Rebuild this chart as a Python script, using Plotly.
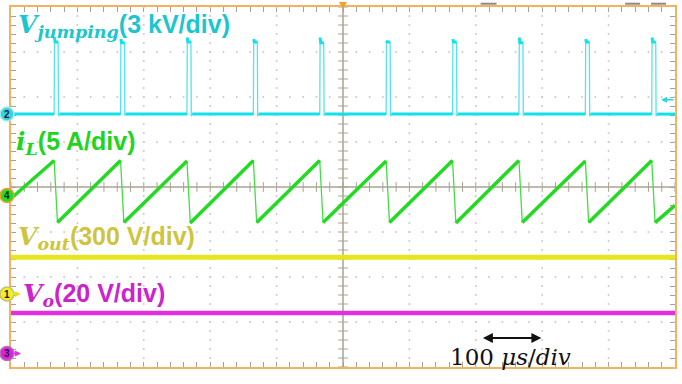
import numpy as np
import plotly.graph_objects as go

# ---------------- data ----------------
# time base: 100 us/div, 10 divisions
pulse_t_us = [65, 165, 265, 365, 465, 565, 665, 765, 865, 965]
pulse_width_us = 6
jump_spike_kV = [5.1, 5.0, 5.1, 5.0, 5.1, 4.9, 5.0, 5.1, 5.0, 5.1]
jump_top_kV = [4.8, 4.75, 4.8, 4.8, 4.75, 4.8, 4.8, 4.75, 4.8, 4.8]
jump_under_kV = [-0.15, -0.1, -0.15, -0.15, -0.1, -0.15, -0.15, -0.1, -0.15, -0.15]

iL_peak_A = [3.9, 3.9, 3.85, 3.9, 3.9, 3.85, 3.9, 3.9, 3.85, 3.9]
iL_min_A = [-3.0, -3.0, -3.05, -3.0, -3.0, -3.0, -3.05, -3.0, -3.0, -3.0]
iL_fall_us = 5
iL_start_A = -0.33
iL_end_A = -1.1

vout_t_us = [0, 250, 500, 750, 1000]
vout_V = [246, 246, 246, 246, 246]
vo_t_us = [0, 250, 500, 750, 1000]
vo_V = [18, 18, 18, 18, 18]

# channel volts/div and ground offset (divisions from screen centre)
scale_jump, off_jump = 3.0, 1.62
scale_iL, off_iL = 5.0, -0.19
scale_vout, off_vout = 300.0, -2.38
scale_vo, off_vo = 20.0, -3.70

# ---------------- layout constants ----------------
WPX, HPX = 682, 384
ML, MR, MT, MB = 11, 5, 6, 17
PW, PH = WPX - ML - MR, HPX - MT - MB
ORANGE = "#F4B25E"
GRIDC = "#ABA292"
DOTC = "#CFCAC0"

def py2y(py):
    return 4.0 - (py - MT) / PH * 8.0

def y2py(y):
    return MT + (4.0 - y) / 8.0 * PH

def ppx(px):
    return (px - ML) / PW

def ppy(py):
    return (HPX - MB - py) / PH

# ---------------- build traces ----------------
w = pulse_width_us
# full V_jumping waveform (thin: fast edges) + bright baseline / tops (thick)
cx, cy = [0.0], [0.0]
bx, by = [0.0], [0.0]
for t, sp, top, us in zip(pulse_t_us, jump_spike_kV, jump_top_kV, jump_under_kV):
    cx += [t, t + 0.5, t + 1.5, t + w, t + w + 0.5, t + w + 2]
    cy += [0.0, sp, top, top, us, 0.0]
    bx += [t, None, t + 0.5, t + 1.5, t + w, None, t + w + 2]
    by += [0.0, None, sp, top, top, None, 0.0]
cx.append(1000.0); cy.append(0.0)
bx.append(1000.0); by.append(0.0)
to_div_j = lambda v: None if v is None else off_jump + v / scale_jump
cy_div = [to_div_j(v) for v in cy]
by_div = [to_div_j(v) for v in by]

# inductor current: thin full waveform + thick ramps
gx, gy = [0.0], [iL_start_A]
rx, ry = [0.0], [iL_start_A]
for t, pk, mn in zip(pulse_t_us, iL_peak_A, iL_min_A):
    gx += [t, t + iL_fall_us]
    gy += [pk, mn]
    rx += [t, None, t + iL_fall_us]
    ry += [pk, None, mn]
gx.append(1000.0); gy.append(iL_end_A)
rx.append(1000.0); ry.append(iL_end_A)
to_div_i = lambda v: None if v is None else off_iL + v / scale_iL
gy_div = [to_div_i(v) for v in gy]
ry_div = [to_div_i(v) for v in ry]

yv_div = [off_vout + v / scale_vout for v in vout_V]
mv_div = [off_vo + v / scale_vo for v in vo_V]

fig = go.Figure()

# dotted graticule
dx, dy = [], []
for gxl in range(100, 1000, 100):
    if gxl == 500:
        continue
    for yy in np.arange(-4, 4.001, 0.2):
        dx.append(gxl); dy.append(yy)
for gyl in range(-3, 4):
    if gyl == 0:
        continue
    for xx in np.arange(0, 1000.1, 20):
        dx.append(xx); dy.append(gyl)
fig.add_trace(go.Scatter(x=dx, y=dy, mode="markers",
                         marker=dict(size=2, color=DOTC), hoverinfo="skip"))

# centre cross ticks
tx = list(np.arange(0, 1000.1, 20))
fig.add_trace(go.Scatter(x=tx, y=[0] * len(tx), mode="markers",
                         marker=dict(symbol="line-ns", size=7, line=dict(width=1, color=GRIDC)),
                         hoverinfo="skip"))
ty = list(np.arange(-4, 4.001, 0.2))
fig.add_trace(go.Scatter(x=[500] * len(ty), y=ty, mode="markers",
                         marker=dict(symbol="line-ew", size=7, line=dict(width=1, color=GRIDC)),
                         hoverinfo="skip"))

# signals
fig.add_trace(go.Scatter(x=cx, y=cy_div, mode="lines",
                         line=dict(color="#55E4EA", width=1.3), hoverinfo="skip"))
fig.add_trace(go.Scatter(x=bx, y=by_div, mode="lines", connectgaps=False,
                         line=dict(color="#0FE2EC", width=3), hoverinfo="skip"))
fig.add_trace(go.Scatter(x=gx, y=gy_div, mode="lines",
                         line=dict(color="#44DD44", width=1.3), hoverinfo="skip"))
fig.add_trace(go.Scatter(x=rx, y=ry_div, mode="lines", connectgaps=False,
                         line=dict(color="#22DA22", width=3.5), hoverinfo="skip"))
fig.add_trace(go.Scatter(x=vout_t_us, y=yv_div, mode="lines",
                         line=dict(color="#E6E61E", width=5), hoverinfo="skip"))
fig.add_trace(go.Scatter(x=vo_t_us, y=mv_div, mode="lines",
                         line=dict(color="#E030E0", width=4.5), hoverinfo="skip"))

serif = "DejaVu Serif"

def label(main, sub, rest):
    s = "<span style='font-family:%s'><b><i>%s</i></b>" % (serif, main)
    if sub:
        s += "<sub><b><i>%s</i></b></sub>" % sub
    s += "</span><b>%s</b>" % rest
    return s

ann = []
ann.append(dict(text=label("V", "jumping", "(3 kV/div)"), x=ppx(16), y=ppy(25),
                font=dict(color="#1CC6CE", size=25)))
ann.append(dict(text=label("i", "L", "(5 A/div)"), x=ppx(14), y=ppy(142),
                font=dict(color="#22D422", size=25)))
ann.append(dict(text=label("V", "out", "(300 V/div)"), x=ppx(16), y=ppy(238),
                font=dict(color="#CDC540", size=25)))
ann.append(dict(text=label("V", "o", "(20 V/div)"), x=ppx(21), y=ppy(295),
                font=dict(color="#CC24CC", size=25)))
ann.append(dict(text="<span style='font-family:%s'>100 <i>μs</i>/<i>div</i></span>" % serif,
                x=ppx(449), y=ppy(357), font=dict(color="#111", size=23)))
for a in ann:
    a.update(xref="paper", yref="paper", xanchor="left", yanchor="middle",
             showarrow=False)
    a["font"]["family"] = "Liberation Sans"

shapes = [
    dict(type="line", xref="x", yref="y", x0=500, x1=500, y0=-4, y1=4,
         line=dict(color=GRIDC, width=1.5), layer="below"),
    dict(type="line", xref="x", yref="y", x0=0, x1=1000, y0=0, y1=0,
         line=dict(color=GRIDC, width=1.5), layer="below"),
]
for a, b in [(482, 498), (627, 642), (653, 668)]:
    shapes.append(dict(type="line", xref="paper", yref="paper", x0=ppx(a), x1=ppx(b),
                       y0=ppy(2.7), y1=ppy(2.7), line=dict(color="#8A8A8A", width=2)))

# channel arrows (1, 3)
for yy, col in [(off_vout, "#E4E41C"), (off_vo, "#E030E0")]:
    py = y2py(yy)
    ann.append(dict(x=ppx(21), y=ppy(py), ax=-9, ay=0, xref="paper", yref="paper",
                    text="", showarrow=True, arrowhead=2, arrowsize=0.8,
                    arrowwidth=1.5, arrowcolor=col))
# trigger level arrow (right edge)
ann.append(dict(x=ppx(663), y=ppy(99), ax=14, ay=0, xref="paper", yref="paper", text="",
                showarrow=True, arrowhead=2, arrowsize=0.8, arrowwidth=1.5,
                arrowcolor="#20D8E0"))
# double arrow 100 us
ann.append(dict(x=ppx(543), y=ppy(338), ax=-60, ay=0,
                xref="paper", yref="paper", text="",
                showarrow=True, arrowhead=2, arrowside="end+start",
                arrowsize=1, arrowwidth=2, arrowcolor="#111"))

# channel ground marker circles (drawn as paper shapes + text)
mk_lbl = ["2", "4", "1", "3"]
mk_y = [off_jump, off_iL, off_vout, off_vo]
mk_fill = ["#38D2E2", "#22DD22", "#F2F020", "#E020E0"]
mk_edge = ["#A8E8EE", "#F0A030", "#C8C070", "#B870B8"]
r = 7
for lb, yy, fc, ec in zip(mk_lbl, mk_y, mk_fill, mk_edge):
    py = y2py(yy)
    shapes.append(dict(type="circle", xref="paper", yref="paper",
                       x0=ppx(7 - r), x1=ppx(7 + r), y0=ppy(py + r), y1=ppy(py - r),
                       fillcolor=fc, line=dict(color=ec, width=1.5), layer="above"))
    ann.append(dict(text="<b>%s</b>" % lb, x=ppx(7), y=ppy(py), xref="paper", yref="paper",
                    showarrow=False, xanchor="center", yanchor="middle",
                    font=dict(size=10, color="#222", family="Liberation Sans")))

# trigger position marker at top centre
shapes.append(dict(type="path", xref="paper", yref="paper",
                   path="M %f %f L %f %f L %f %f Z" % (ppx(340), ppy(1), ppx(348), ppy(1),
                                                      ppx(344), ppy(8)),
                   fillcolor="#F0A030", line=dict(width=0), layer="above"))

axis_common = dict(showgrid=False, zeroline=False, showticklabels=False,
                   showline=True, linecolor=ORANGE, linewidth=2, mirror="allticks",
                   ticks="inside", ticklen=5, tickcolor="#A8A294", tickwidth=1,
                   layer="below traces", fixedrange=True)

fig.update_layout(
    width=WPX, height=HPX, margin=dict(l=ML, r=MR, t=MT, b=MB),
    paper_bgcolor="white", plot_bgcolor="white", showlegend=False,
    xaxis=dict(range=[0, 1000], dtick=20, tick0=0, **axis_common),
    yaxis=dict(range=[-4, 4], dtick=0.2, tick0=0, **axis_common),
    annotations=ann, shapes=shapes,
)

fig.write_html("out.html", config={"displayModeBar": False},
               post_script="document.body.style.margin='0';document.body.style.padding='0';")
